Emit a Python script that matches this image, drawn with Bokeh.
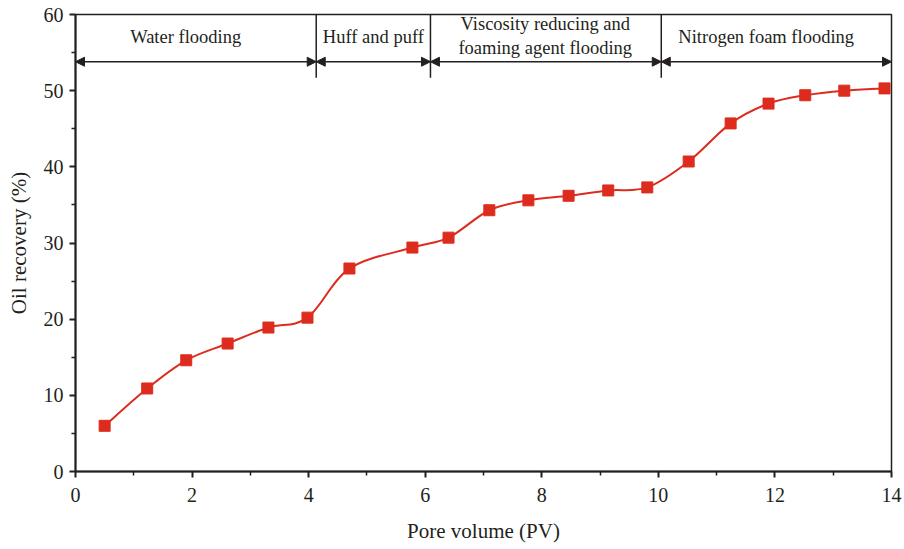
from bokeh.plotting import figure
from bokeh.models import Arrow, NormalHead, ColumnDataSource, Range1d, FixedTicker
from bokeh.core.properties import value
from bokeh.embed import file_html
from bokeh.resources import INLINE

# data
pore_volume = [0.50, 1.23, 1.90, 2.61, 3.31, 3.98, 4.70, 5.78, 6.40, 7.10,
               7.77, 8.46, 9.14, 9.81, 10.52, 11.24, 11.89, 12.52, 13.19, 13.88]
oil_recovery = [6.0, 10.9, 14.6, 16.8, 18.9, 20.2, 26.65, 29.4, 30.7, 34.3,
                35.6, 36.2, 36.9, 37.3, 40.7, 45.7, 48.3, 49.4, 50.0, 50.3]

phase_bounds = [0.0, 4.13, 6.09, 10.05, 14.0]
phase_labels = ["Water flooding", "Huff and puff",
                "Viscosity reducing and\nfoaming agent flooding",
                "Nitrogen foam flooding"]
arrow_y = 53.8
divider_bottom = 51.7

FONT = "Liberation Serif"
RED = "#dd2c1e"
INK = "#231f20"

p = figure(width=904, height=549, output_backend="svg", toolbar_location=None,
           x_range=Range1d(0, 14), y_range=Range1d(0, 60),
           min_border_left=75, min_border_right=13, min_border_top=14,
           min_border_bottom=78)
p.grid.visible = False
p.outline_line_color = INK
p.outline_line_width = 1.5
p.outline_line_alpha = 1

for ax in (p.xaxis[0], p.yaxis[0]):
    ax.axis_line_width = 2
    ax.axis_line_color = INK
    ax.major_tick_line_color = INK
    ax.minor_tick_line_color = INK
    ax.major_tick_line_width = 2
    ax.minor_tick_line_width = 1.5
    ax.major_tick_out = 6
    ax.major_tick_in = 0
    ax.minor_tick_out = 4
    ax.minor_tick_in = 0
    ax.major_label_text_font = FONT
    ax.major_label_text_font_size = "20px"
    ax.major_label_text_color = INK
    ax.axis_label_text_font = FONT
    ax.axis_label_text_font_size = "21px"
    ax.axis_label_text_font_style = "normal"
    ax.axis_label_text_color = INK

p.xaxis.ticker = FixedTicker(ticks=[0, 2, 4, 6, 8, 10, 12, 14],
                             minor_ticks=[1, 3, 5, 7, 9, 11, 13])
p.yaxis.ticker = FixedTicker(ticks=[0, 10, 20, 30, 40, 50, 60],
                             minor_ticks=[5, 15, 25, 35, 45, 55])
p.xaxis.axis_label = "Pore volume (PV)"
p.yaxis.axis_label = "Oil recovery (%)"
p.xaxis.major_label_standoff = 10
p.xaxis.axis_label_standoff = 14
p.yaxis.major_label_standoff = 6
p.yaxis.axis_label_standoff = 10

# smooth curve through the points (Catmull-Rom -> cubic Bezier)
n = len(pore_volume)
x0, y0, x1, y1, cx0, cy0, cx1, cy1 = [], [], [], [], [], [], [], []
for i in range(n - 1):
    im = max(i - 1, 0)
    ip2 = min(i + 2, n - 1)
    x0.append(pore_volume[i]); y0.append(oil_recovery[i])
    x1.append(pore_volume[i + 1]); y1.append(oil_recovery[i + 1])
    cx0.append(pore_volume[i] + (pore_volume[i + 1] - pore_volume[im]) / 6)
    cy0.append(oil_recovery[i] + (oil_recovery[i + 1] - oil_recovery[im]) / 6)
    cx1.append(pore_volume[i + 1] - (pore_volume[ip2] - pore_volume[i]) / 6)
    cy1.append(oil_recovery[i + 1] - (oil_recovery[ip2] - oil_recovery[i]) / 6)
p.bezier(x0=x0, y0=y0, x1=x1, y1=y1, cx0=cx0, cy0=cy0, cx1=cx1, cy1=cy1,
         line_color=RED, line_width=2)
p.scatter(pore_volume, oil_recovery, marker="square", size=11,
          fill_color=RED, line_color=RED)

# phase dividers
p.segment(x0=phase_bounds[1:4], y0=[divider_bottom] * 3,
          x1=phase_bounds[1:4], y1=[60] * 3, line_color=INK, line_width=1.5)

# double arrows
for a, b in zip(phase_bounds[:-1], phase_bounds[1:]):
    p.add_layout(Arrow(x_start=a, y_start=arrow_y, x_end=b, y_end=arrow_y,
                       line_color=INK, line_width=1.5,
                       start=NormalHead(size=9, fill_color=INK, line_color=INK),
                       end=NormalHead(size=9, fill_color=INK, line_color=INK)))

# phase labels
label_x = [1.89, 5.11, 8.06, 11.85]
label_y = [57.0, 57.0, 57.2, 57.0]
src = ColumnDataSource(dict(x=label_x, y=label_y, t=phase_labels))
p.text(x="x", y="y", text="t", source=src, text_font=value(FONT),
       text_font_size="18.5px", text_align="center", text_baseline="middle",
       text_color=INK, text_line_height=1.18)

open("out.html", "w").write(file_html(p, INLINE))
